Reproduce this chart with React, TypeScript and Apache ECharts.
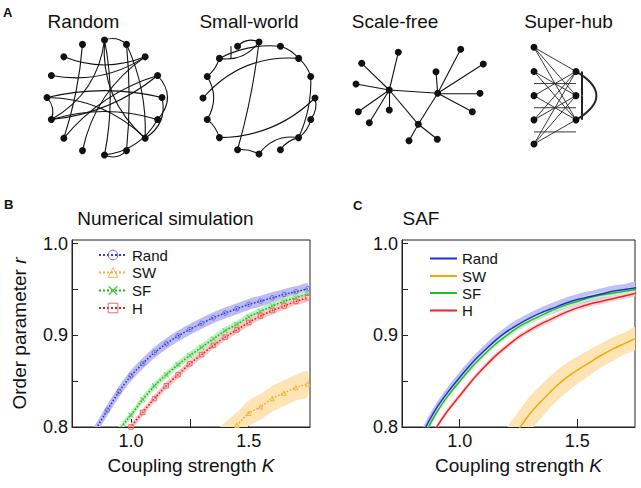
import React, { useEffect, useRef } from 'react';
import * as echarts from 'echarts';

// ---------- Panel B: numerical simulation ----------
const randK_B = [0.80, 0.85, 0.90, 0.95, 1.00, 1.05, 1.10, 1.15, 1.20, 1.25, 1.30, 1.35, 1.40, 1.45, 1.50, 1.55, 1.60, 1.65, 1.70, 1.75];
const randR_B = [0.774, 0.797, 0.8185, 0.8388, 0.8558, 0.8692, 0.8812, 0.8909, 0.8993, 0.9065, 0.9130, 0.9192, 0.9243, 0.9290, 0.9337, 0.9373, 0.9409, 0.9446, 0.9475, 0.9507];
const randHalf_B = 0.006;

const swK_B = [1.35, 1.40, 1.45, 1.50, 1.55, 1.60, 1.65, 1.70, 1.75];
const swR_B = [0.778, 0.791, 0.802, 0.815, 0.822, 0.831, 0.837, 0.843, 0.847];
const swHalf_B = 0.014;

const sfK_B = [0.90, 0.95, 1.00, 1.05, 1.10, 1.15, 1.20, 1.25, 1.30, 1.35, 1.40, 1.45, 1.50, 1.55, 1.60, 1.65, 1.70, 1.75];
const sfR_B = [0.776, 0.797, 0.813, 0.830, 0.845, 0.857, 0.868, 0.878, 0.887, 0.896, 0.905, 0.912, 0.920, 0.926, 0.932, 0.937, 0.941, 0.945];
const sfHalf_B = 0.004;

const hK_B = [0.95, 1.00, 1.05, 1.10, 1.15, 1.20, 1.25, 1.30, 1.35, 1.40, 1.45, 1.50, 1.55, 1.60, 1.65, 1.70, 1.75];
const hR_B = [0.782, 0.800, 0.816, 0.831, 0.845, 0.857, 0.869, 0.879, 0.889, 0.898, 0.906, 0.914, 0.921, 0.927, 0.932, 0.937, 0.941];
const hHalf_B = 0.004;

// ---------- Panel C: SAF ----------
const kC = [0.80, 0.85, 0.90, 0.95, 1.00, 1.05, 1.10, 1.15, 1.20, 1.25, 1.30, 1.35, 1.40, 1.45, 1.50, 1.55, 1.60, 1.65, 1.70, 1.75];
const randR_C = [0.770, 0.797, 0.820, 0.838, 0.854, 0.869, 0.882, 0.894, 0.904, 0.912, 0.919, 0.925, 0.930, 0.935, 0.939, 0.942, 0.945, 0.948, 0.950, 0.952];
const randHalf_C = 0.006;
const sfR_C = [0.763, 0.791, 0.815, 0.834, 0.850, 0.865, 0.878, 0.890, 0.900, 0.909, 0.916, 0.922, 0.928, 0.933, 0.937, 0.941, 0.944, 0.946, 0.948, 0.950];
const sfHalf_C = 0.003;
const hK_C = [0.85, 0.90, 0.95, 1.00, 1.05, 1.10, 1.15, 1.20, 1.25, 1.30, 1.35, 1.40, 1.45, 1.50, 1.55, 1.60, 1.65, 1.70, 1.75];
const hR_C = [0.776, 0.799, 0.818, 0.834, 0.850, 0.864, 0.877, 0.888, 0.898, 0.906, 0.913, 0.919, 0.925, 0.930, 0.934, 0.937, 0.940, 0.943, 0.946];
const hHalf_C = 0.003;
const swK_C = [1.15, 1.20, 1.25, 1.30, 1.35, 1.40, 1.45, 1.50, 1.55, 1.60, 1.65, 1.70, 1.75];
const swR_C = [0.757, 0.778, 0.797, 0.815, 0.829, 0.842, 0.853, 0.862, 0.870, 0.878, 0.885, 0.891, 0.897];
const swHalf_C = [0.022, 0.021, 0.020, 0.019, 0.018, 0.017, 0.016, 0.015, 0.014, 0.013, 0.013, 0.012, 0.012];

// ---------- axis ticks ----------
const yTicks = [0.8, 0.85, 0.9, 0.95, 1.0];
const yLabels = [0.8, 0.9, 1.0];
const xTicks = [1.0, 1.25, 1.5];
const xLabels = [1.0, 1.5];

// ---------- Panel A: networks ----------
const ringCount = 16;
const randomEdges = [[4, 3], [3, 13], [5, 10], [4, 12], [4, 9], [4, 14], [6, 2], [7, 2], [8, 0], [8, 9], [9, 1], [8, 14], [11, 2], [10, 1], [12, 15], [13, 12], [0, 14], [1, 15], [15, 9], [3, 14]];
const smallWorldEdges = [[5, 4], [6, 4], [6, 5], [6, 3], [3, 2], [2, 1], [1, 14], [0, 15], [15, 14], [13, 14], [12, 14], [11, 12], [4, 11], [8, 2], [10, 0], [6, 7], [7, 9], [9, 10]];
const sfX = [33.3, 81.7, 62.3, 5.7, 42.3, 0, 2.3, 13.3, 33.3, 80, 104.7, 127.3, 124, 116.3, 53, 81.3];
const sfY = [40.7, 44, 75, 14, 3, 34.7, 62.4, 73.4, 60.7, 22.4, 0, 14.7, 44, 62.4, 91.4, 90];
const sfEdges = [[0, 1], [0, 2], [1, 2], [0, 3], [0, 4], [0, 5], [0, 6], [0, 7], [0, 8], [1, 9], [1, 10], [1, 11], [1, 12], [1, 13], [2, 14], [2, 15]];
const shLeftCount = 5;
const shHubRows = [1, 2, 3];

const FONT = '"Liberation Sans", Arial, sans-serif';

const randomCurv = [0.3, 0.05, 0.06, 0.1, 0.25, -0.25, -0.2, -0.2, 0.12, 0.3, -0.15, 0.2, 0.2, 0.15, -0.25, 0.35, 0.35, 0.45, -0.15, 0.12];
const swCurv = [0.35, -0.3, 0, 0.15, 0.15, 0.15, 0.12, 0.25, 0.2, 0.2, 0.3, 0.15, 0.04, 0.25, -0.2, 0.15, 0.3, 0.15];

function zip(K: number[], R: number[]) {
  return K.map((k, i) => [k, R[i]]);
}

function bandSeries(id: string, K: number[], R: number[], half: number | number[], color: string, gi: number) {
  const h = (i: number) => (Array.isArray(half) ? half[i] : half);
  return {
    name: id, type: 'custom', xAxisIndex: gi, yAxisIndex: gi, silent: true, clip: true, z: 1,
    data: zip(K, R),
    renderItem: (params: any, api: any) => {
      if (params.dataIndex !== 0) return null;
      const pts: number[][] = [];
      for (let i = 0; i < K.length; i++) pts.push(api.coord([K[i], R[i] + h(i)]));
      for (let i = K.length - 1; i >= 0; i--) pts.push(api.coord([K[i], R[i] - h(i)]));
      return { type: 'polygon', shape: { points: pts, smooth: 0.25 }, style: { fill: color } };
    },
  };
}

function ringNodes(prefix: string) {
  const nodes: any[] = [];
  for (let i = 0; i < ringCount; i++) {
    const a = (i * 2 * Math.PI) / ringCount;
    nodes.push({ name: prefix + i, x: Math.cos(a), y: -Math.sin(a) });
  }
  return nodes;
}

function graphBase(left: number, top: number, width: number, height: number) {
  return {
    type: 'graph', layout: 'none', left, top, width, height, roam: false, silent: true,
    symbolSize: 7, itemStyle: { color: '#111' }, label: { show: false },
    emphasis: { disabled: true },
    lineStyle: { color: '#111', width: 1.1, opacity: 1, curveness: 0 },
  };
}

function xAxisFor(gi: number, min: number, max: number) {
  return {
    gridIndex: gi, type: 'value', min, max,
    axisLine: { show: true, lineStyle: { color: '#222', width: 1 } },
    axisTick: { show: true, inside: true, length: 8, customValues: xTicks, lineStyle: { color: '#222' } },
    axisLabel: { customValues: xLabels, formatter: (v: number) => v.toFixed(1), fontSize: 18, color: '#111', fontFamily: FONT, margin: 5 },
    splitLine: { show: false },
    name: 'Coupling strength {i|K}', nameLocation: 'middle', nameGap: 29, nameMoveOverlap: false,
    nameTextStyle: { fontSize: 19, color: '#111', fontFamily: FONT, rich: { i: { fontSize: 19, fontStyle: 'italic', color: '#111', fontFamily: FONT } } },
  };
}

function yAxisFor(gi: number, withName: boolean) {
  const ax: any = {
    gridIndex: gi, type: 'value', min: 0.8, max: 1.004,
    axisLine: { show: true, lineStyle: { color: '#222', width: 1 } },
    axisTick: { show: true, inside: true, length: 6, customValues: yTicks, lineStyle: { color: '#222' } },
    axisLabel: { customValues: yLabels, formatter: (v: number) => v.toFixed(1), fontSize: 18, color: '#111', fontFamily: FONT, margin: 4 },
    splitLine: { show: false },
  };
  if (withName) {
    Object.assign(ax, {
      name: 'Order parameter {i|r}', nameLocation: 'middle', nameGap: 43, nameMoveOverlap: false,
      nameTextStyle: { fontSize: 19, color: '#111', fontFamily: FONT, rich: { i: { fontSize: 19, fontStyle: 'italic', color: '#111', fontFamily: FONT } } },
    });
  }
  return ax;
}

const xMarkPath = 'path://M0,1 L1,0 L5,4 L9,0 L10,1 L6,5 L10,9 L9,10 L5,6 L1,10 L0,9 L4,5 Z';

export default function App() {
  const ref = useRef<HTMLDivElement>(null);
  useEffect(() => {
    if (!ref.current) return;
    const chart = echarts.init(ref.current, null, { renderer: 'svg' });

    const randomNodes = ringNodes('r');
    const swNodes = ringNodes('w');
    const sfNodes = sfX.map((x, i) => ({ name: 's' + i, x, y: sfY[i] }));
    const shNodes: any[] = [];
    for (let i = 0; i < shLeftCount; i++) shNodes.push({ name: 'hl' + i, x: 0, y: i });
    shHubRows.forEach((r, j) => shNodes.push({ name: 'hh' + j, x: 1.75, y: r }));
    const shEdges: any[] = [];
    for (let i = 0; i < shLeftCount; i++) {
      shHubRows.forEach((_, j) => shEdges.push({ source: 'hl' + i, target: 'hh' + j }));
    }
    shEdges.push({ source: 'hh0', target: 'hh1', lineStyle: { width: 2 } });
    shEdges.push({ source: 'hh1', target: 'hh2', lineStyle: { width: 2 } });
    shEdges.push({ source: 'hh0', target: 'hh2', lineStyle: { width: 2, curveness: 0.85 } });

    const lineB = (name: string, K: number[], R: number[], line: string, mark: string, symbol: string, filled: boolean) => ({
      name, type: 'line', xAxisIndex: 0, yAxisIndex: 0, data: zip(K, R), smooth: 0.3,
      symbol, symbolSize: filled ? 5.5 : 4.5, showSymbol: true, z: 3,
      lineStyle: { color: line, width: 1.6, type: 'dotted' },
      itemStyle: filled
        ? { color: mark, borderWidth: 0 }
        : { color: 'rgba(255,255,255,0)', borderColor: mark, borderWidth: 1 },
    });
    const lineC = (name: string, K: number[], R: number[], color: string) => ({
      name, type: 'line', xAxisIndex: 1, yAxisIndex: 1, data: zip(K, R), smooth: 0.3,
      symbol: 'none', showSymbol: false, z: 3,
      lineStyle: { color, width: 1.5 }, itemStyle: { color },
    });

    const legendRowsB = [['Rand', 247.5], ['SW', 265], ['SF', 283], ['H', 300.5]];
    const legendRowsC = [['Rand_C', 251], ['SW_C', 268.5], ['SF_C', 285.5], ['H_C', 303]];

    const option: any = {
      animation: false,
      backgroundColor: '#fff',
      grid: [
        { left: 72, top: 240, width: 238, height: 187, show: true, borderColor: '#222', borderWidth: 1, backgroundColor: 'transparent', outerBoundsMode: 'none', containLabel: false },
        { left: 402, top: 240, width: 233, height: 187, show: true, borderColor: '#222', borderWidth: 1, backgroundColor: 'transparent', outerBoundsMode: 'none', containLabel: false },
      ],
      xAxis: [xAxisFor(0, 0.75, 1.76), xAxisFor(1, 0.755, 1.745)],
      yAxis: [yAxisFor(0, true), yAxisFor(1, false)],
      legend: [
        ...legendRowsB.map(([n, t]) => ({
          data: [n], left: 98, top: t, padding: 0, itemWidth: 28, itemHeight: 12, itemGap: 8,
          itemStyle: { borderWidth: 1 },
          textStyle: { fontSize: 15, color: '#111', fontFamily: FONT }, selectedMode: false,
        })),
        ...legendRowsC.map(([n, t]) => ({
          data: [{ name: n, icon: 'rect' }], left: 430, top: t, padding: 0, itemWidth: 27, itemHeight: 2, itemGap: 7,
          formatter: (s: string) => s.replace('_C', ''),
          textStyle: { fontSize: 15, color: '#111', fontFamily: FONT }, selectedMode: false,
        })),
      ],
      graphic: [
        { type: 'text', x: 3, y: 12, style: { text: 'A', fontSize: 13, fontWeight: 'bold', fontFamily: FONT, fill: '#111', verticalAlign: 'middle' } },
        { type: 'text', x: 4, y: 204.5, style: { text: 'B', fontSize: 13, fontWeight: 'bold', fontFamily: FONT, fill: '#111', verticalAlign: 'middle' } },
        { type: 'text', x: 353, y: 205, style: { text: 'C', fontSize: 13, fontWeight: 'bold', fontFamily: FONT, fill: '#111', verticalAlign: 'middle' } },
        { type: 'text', x: 83.5, y: 21, style: { text: 'Random', fontSize: 19, fontFamily: FONT, fill: '#111', align: 'center', verticalAlign: 'middle' } },
        { type: 'text', x: 249, y: 21, style: { text: 'Small-world', fontSize: 19, fontFamily: FONT, fill: '#111', align: 'center', verticalAlign: 'middle' } },
        { type: 'text', x: 395, y: 21, style: { text: 'Scale-free', fontSize: 19, fontFamily: FONT, fill: '#111', align: 'center', verticalAlign: 'middle' } },
        { type: 'text', x: 568.5, y: 21, style: { text: 'Super-hub', fontSize: 19, fontFamily: FONT, fill: '#111', align: 'center', verticalAlign: 'middle' } },
        { type: 'text', x: 165.5, y: 218.5, style: { text: 'Numerical simulation', fontSize: 19, fontFamily: FONT, fill: '#111', align: 'center', verticalAlign: 'middle' } },
        { type: 'text', x: 402.5, y: 218.5, style: { text: 'SAF', fontSize: 19, fontFamily: FONT, fill: '#111', align: 'left', verticalAlign: 'middle' } },
      ],
      series: [
        // network diagrams
        {
          ...graphBase(47, 40, 115, 115), data: randomNodes,
          edges: randomEdges.map(([s, t], i) => ({ source: 'r' + s, target: 'r' + t, lineStyle: { curveness: randomCurv[i] } })),
        },
        {
          ...graphBase(203, 42, 112, 112), data: swNodes,
          edges: smallWorldEdges.map(([s, t], i) => ({ source: 'w' + s, target: 'w' + t, lineStyle: { curveness: swCurv[i] } })),
        },
        {
          ...graphBase(356, 49.3, 127.3, 91.4), data: sfNodes,
          edges: sfEdges.map(([s, t]) => ({ source: 's' + s, target: 's' + t })),
        },
        {
          ...graphBase(534, 47.3, 42, 96.7), data: shNodes, edges: shEdges,
          lineStyle: { color: '#222', width: 0.9, opacity: 1, curveness: 0 },
        },
        // panel B bands
        bandSeries('bRand', randK_B, randR_B, randHalf_B, '#bcbcf2', 0),
        bandSeries('bSF', sfK_B, sfR_B, sfHalf_B, '#bdeebd', 0),
        bandSeries('bH', hK_B, hR_B, hHalf_B, '#f8c8c8', 0),
        bandSeries('bSW', swK_B, swR_B, swHalf_B, '#fde4b4', 0),
        // panel B lines
        lineB('Rand', randK_B, randR_B, '#3535d8', '#6a6ae6', 'circle', false),
        lineB('SW', swK_B, swR_B, '#f0b030', '#f0b84a', 'triangle', false),
        lineB('SF', sfK_B, sfR_B, '#1db81d', '#4ccc4c', xMarkPath, true),
        lineB('H', hK_B, hR_B, '#ee1c1c', '#f06868', 'rect', false),
        // panel C bands
        bandSeries('cRand', kC, randR_C, randHalf_C, '#c0c0f2', 1),
        bandSeries('cSF', kC, sfR_C, sfHalf_C, '#cdeccd', 1),
        bandSeries('cH', hK_C, hR_C, hHalf_C, '#f8d4d4', 1),
        bandSeries('cSW', swK_C, swR_C, swHalf_C, '#fde4b4', 1),
        // panel C lines
        lineC('SW_C', swK_C, swR_C, '#f2a900'),
        lineC('H_C', hK_C, hR_C, '#ee2424'),
        lineC('SF_C', kC, sfR_C, '#1fc01f'),
        lineC('Rand_C', kC, randR_C, '#1f2de0'),
      ],
    };
    chart.setOption(option);
    return () => chart.dispose();
  }, []);
  return <div ref={ref} style={{ position: 'fixed', left: 0, top: 0, width: 641, height: 488, background: '#fff' }} />;
}
